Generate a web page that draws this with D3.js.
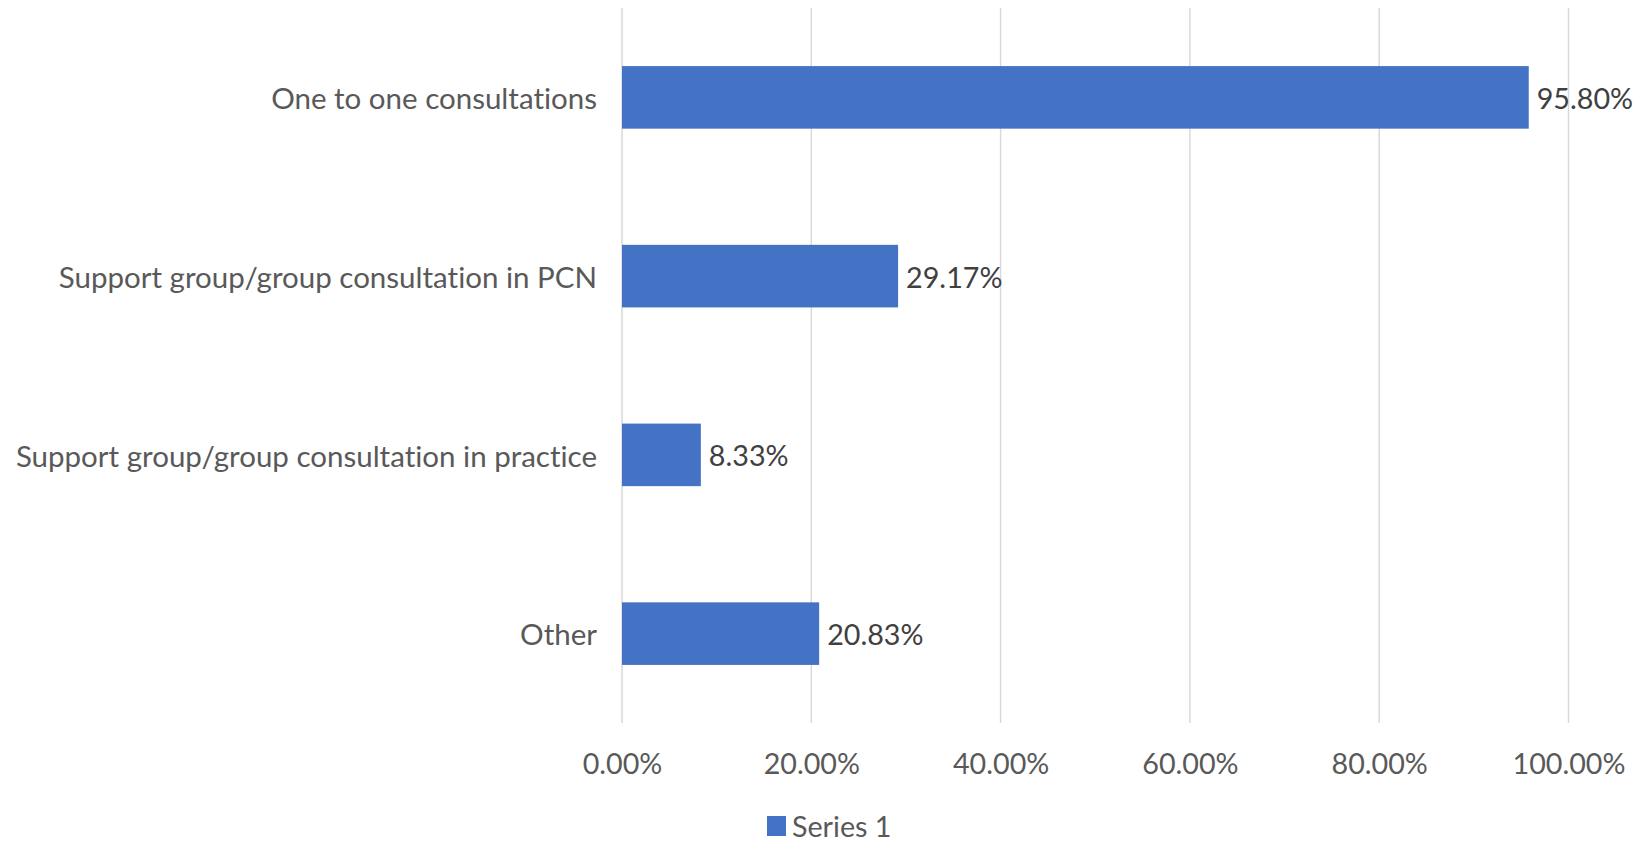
<!DOCTYPE html>
<html><head><meta charset="utf-8">
<script src="https://cdn.jsdelivr.net/npm/d3@7"></script>
<style>body{margin:0;background:#fff;} svg{display:block;} text{font-variant-ligatures:none;font-feature-settings:"liga" 0,"clig" 0;}</style>
</head><body>
<svg id="chart" width="1637" height="845"></svg>
<script>
const categories = ["One to one consultations","Support group/group consultation in PCN","Support group/group consultation in practice","Other"];
const values = [95.80, 29.17, 8.33, 20.83];
const ticks = [0, 20, 40, 60, 80, 100];
const seriesName = "Series 1";

const svg = d3.select("#chart");
const FONT = "Lato, 'Liberation Sans', sans-serif";
const x = d3.scaleLinear().domain([0,100]).range([622, 1568.5]);
const y = d3.scaleBand().domain(categories).range([8, 723]).paddingInner(0.65).paddingOuter(0.325);

// gridlines
svg.append("g").selectAll("line").data(ticks).join("line")
  .attr("x1", d=>x(d)).attr("x2", d=>x(d)).attr("y1", 8).attr("y2", 723)
  .attr("stroke", "#d9d9d9").attr("stroke-width", 1.5);

// x axis labels
const xAxis = d3.axisBottom(x).tickValues(ticks).tickSize(0).tickPadding(0)
  .tickFormat(d => d.toFixed(2) + "%");
const gx = svg.append("g").attr("transform", "translate(0,764)").call(xAxis);
gx.select(".domain").remove();
gx.selectAll("text").attr("dy", "0.36em").attr("y", 0)
  .attr("font-family", FONT).attr("font-size", 28.7).attr("fill", "#595959");

// y axis labels
const yAxis = d3.axisLeft(y).tickSize(0).tickPadding(25);
const gy = svg.append("g").attr("transform", "translate(622,0)").call(yAxis);
gy.select(".domain").remove();
gy.selectAll("text").attr("dy", "0.4em").attr("font-family", FONT).attr("font-size", 29.5).attr("fill", "#595959");

// bars
svg.append("g").selectAll("rect").data(categories).join("rect")
  .attr("x", x(0)).attr("y", d=>y(d))
  .attr("width", (d,i)=>x(values[i]) - x(0)).attr("height", y.bandwidth())
  .attr("fill", "#4472c4");

// data labels
svg.append("g").selectAll("text").data(categories).join("text")
  .attr("x", (d,i)=>x(values[i]) + 8).attr("y", d=>y(d)+y.bandwidth()/2)
  .attr("dy", "0.4em")
  .attr("font-family", FONT).attr("font-size", 28.7).attr("fill", "#404040")
  .text((d,i)=>values[i].toFixed(2) + "%");

// legend
const lg = svg.append("g");
lg.append("rect").attr("x", 767).attr("y", 816).attr("width", 19).attr("height", 20).attr("fill", "#4472c4");
lg.append("text").attr("x", 792).attr("y", 826).attr("dy", "0.38em")
  .attr("font-family", FONT).attr("font-size", 28.7).attr("fill", "#595959").text(seriesName);
</script>
</body></html>
